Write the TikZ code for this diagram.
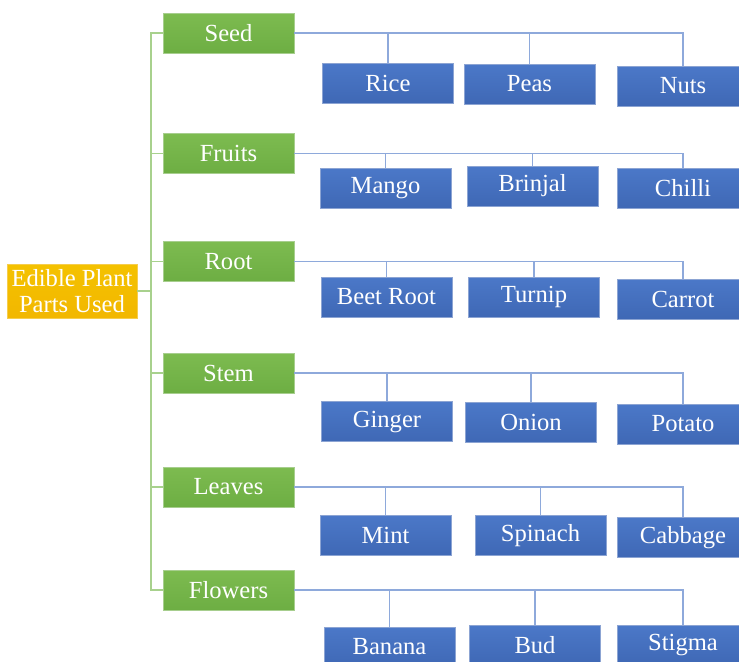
\documentclass[tikz,border=0pt]{standalone}
\usepackage{fontspec}
\newfontfamily\boxfont{LiberationSerif-Regular.ttf}
\usepackage{tikz}
\usetikzlibrary{positioning}

\definecolor{partgreen}{HTML}{6DAE43}
\definecolor{partgreentop}{HTML}{7DBB50}
\definecolor{itemblue}{HTML}{3F68B5}
\definecolor{itembluetop}{HTML}{4B78C8}
\definecolor{rootyellow}{HTML}{F2B700}
\definecolor{trunkgreen}{HTML}{A8D18D}
\definecolor{branchblue}{HTML}{8EA9DB}

\begin{document}
\begin{tikzpicture}[x=0.5pt,y=-0.5pt,
    box/.style={rectangle,inner sep=0pt,text=white,
                font=\boxfont\fontsize{12.3}{13}\selectfont},
    root/.style={box,top color=rootyellow!85!yellow,bottom color=rootyellow,
                 draw=rootyellow!70!white,line width=0.3pt,
                 minimum width=65pt,minimum height=27pt,align=center},
    part/.style={box,top color=partgreentop,bottom color=partgreen,
                 draw=partgreen!60!white,line width=0.3pt,
                 minimum width=65.5pt,minimum height=20pt},
    item/.style={box,top color=itembluetop,bottom color=itemblue,
                 draw=itemblue!60!white,line width=0.3pt,
                 minimum width=65.5pt,minimum height=20pt},
    trunk/.style={draw=trunkgreen,line width=0.8pt},
    branch/.style={draw=branchblue,line width=0.7pt}]

  \clip (0,0) rectangle (739,661);
  \fill[white] (0,0) rectangle (739,661);

  % root and plant parts
  \node[root] (edible)  at (72,291)    {Edible Plant\\Parts Used};
  \node[part] (seed)    at (228.5,33)  {Seed};
  \node[part] (fruits)  at (228.5,153.5) {Fruits};
  \node[part] (roots)   at (228.5,261.5) {Root};
  \node[part] (stem)    at (228.5,373) {Stem};
  \node[part] (leaves)  at (228.5,487) {Leaves};
  \node[part] (flowers) at (228.5,590) {Flowers};
  \coordinate (t) at (151,291);

  % examples
  \node[item] (rice)     at (388,83)      {Rice};
  \node[item] (peas)     at (529.5,84)    {Peas};
  \node[item] (nuts)     at (683,86)      {Nuts};
  \node[item] (mango)    at (385.5,188)   {Mango};
  \node[item] (brinjal)  at (532.5,186)   {Brinjal};
  \node[item] (chilli)   at (683,188)     {Chilli};
  \node[item] (beetroot) at (386.5,297)   {Beet Root};
  \node[item] (turnip)   at (534,297)     {Turnip};
  \node[item] (carrot)   at (683,299)     {Carrot};
  \node[item] (ginger)   at (387,421.5)   {Ginger};
  \node[item] (onion)    at (531,422.5)   {Onion};
  \node[item] (potato)   at (683,424)     {Potato};
  \node[item] (mint)     at (385.5,535.5) {Mint};
  \node[item] (spinach)  at (540.5,535.5) {Spinach};
  \node[item] (cabbage)  at (683,537.5)   {Cabbage};
  \node[item] (banana)   at (389.5,647)   {Banana};
  \node[item] (bud)      at (535,645)     {Bud};
  \node[item] (stigma)   at (683,645)     {Stigma};

  % green trunk
  \draw[trunk] (edible.east) -- (t);
  \draw[trunk] (seed.west) -- (seed.west -| t) -- (flowers.west -| t) -- (flowers.west);
  \draw[trunk] (fruits.west) -- (fruits.west -| t);
  \draw[trunk] (roots.west) -- (roots.west -| t);
  \draw[trunk] (stem.west) -- (stem.west -| t);
  \draw[trunk] (leaves.west) -- (leaves.west -| t);

  % blue branches
  \draw[branch] (seed.east) -- (seed.east -| nuts.north) -- (nuts.north);
  \draw[branch] (rice.north) -- (rice.north |- seed.east);
  \draw[branch] (peas.north) -- (peas.north |- seed.east);

  \draw[branch] (fruits.east) -- (fruits.east -| chilli.north) -- (chilli.north);
  \draw[branch] (mango.north) -- (mango.north |- fruits.east);
  \draw[branch] (brinjal.north) -- (brinjal.north |- fruits.east);

  \draw[branch] (roots.east) -- (roots.east -| carrot.north) -- (carrot.north);
  \draw[branch] (beetroot.north) -- (beetroot.north |- roots.east);
  \draw[branch] (turnip.north) -- (turnip.north |- roots.east);

  \draw[branch] (stem.east) -- (stem.east -| potato.north) -- (potato.north);
  \draw[branch] (ginger.north) -- (ginger.north |- stem.east);
  \draw[branch] (onion.north) -- (onion.north |- stem.east);

  \draw[branch] (leaves.east) -- (leaves.east -| cabbage.north) -- (cabbage.north);
  \draw[branch] (mint.north) -- (mint.north |- leaves.east);
  \draw[branch] (spinach.north) -- (spinach.north |- leaves.east);

  \draw[branch] (flowers.east) -- (flowers.east -| stigma.north) -- (stigma.north);
  \draw[branch] (banana.north) -- (banana.north |- flowers.east);
  \draw[branch] (bud.north) -- (bud.north |- flowers.east);
\end{tikzpicture}
\end{document}
